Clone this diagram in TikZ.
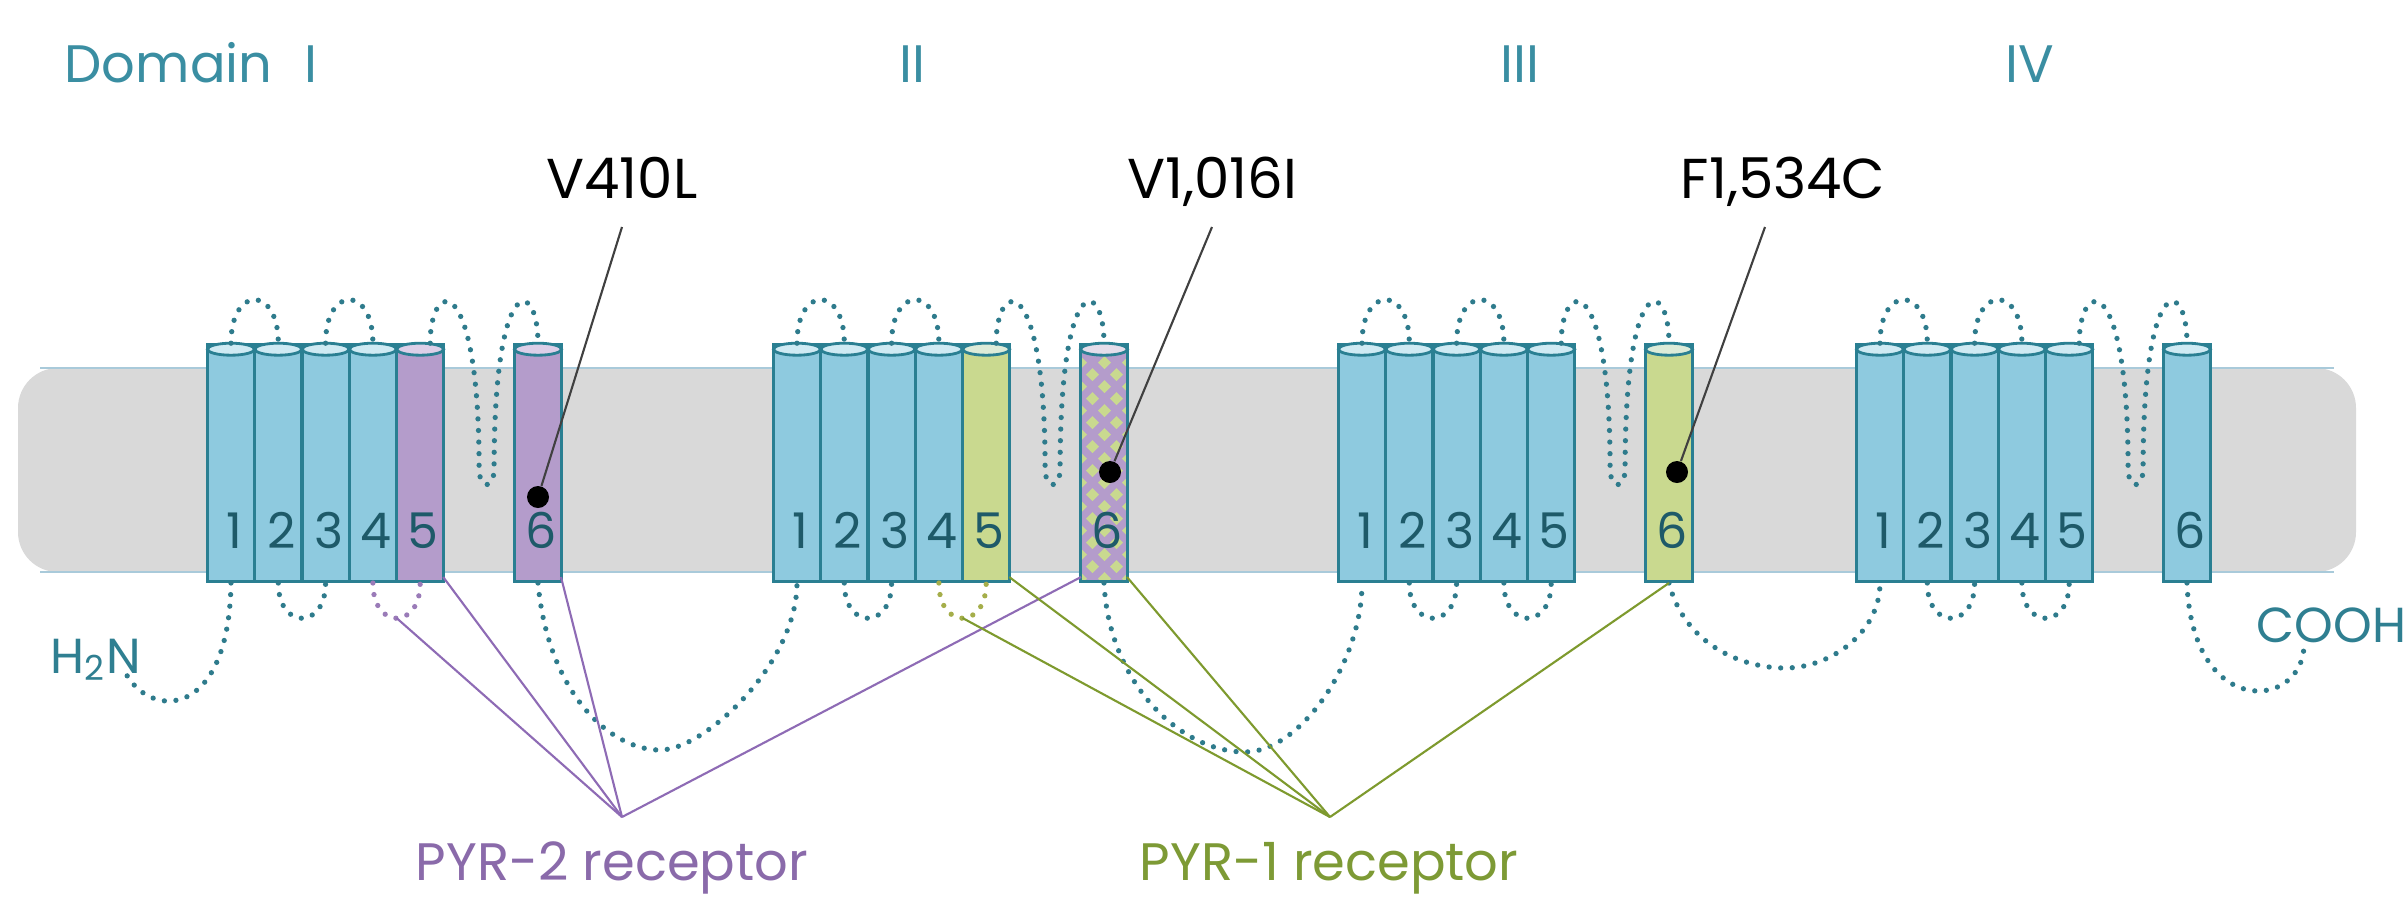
\documentclass[tikz,border=0pt]{standalone}
\usepackage{fontspec}
\setmainfont{Poppins}
\usetikzlibrary{shapes.geometric, calc}

\definecolor{helixblue}{HTML}{8ECADF}
\definecolor{helixtop}{HTML}{CFEAF3}
\definecolor{helixedge}{HTML}{2A7F92}
\definecolor{pyrpurple}{HTML}{B49CCB}
\definecolor{pyrpurpletop}{HTML}{DCCFE8}
\definecolor{pyrgreen}{HTML}{C9D98F}
\definecolor{pyrgreentop}{HTML}{DDEBD8}
\definecolor{pyrmixtop}{HTML}{E4DDEA}
\definecolor{membgray}{HTML}{D9D9D9}
\definecolor{membline}{HTML}{A9CADA}
\definecolor{domteal}{HTML}{3A8EA2}
\definecolor{endteal}{HTML}{2F7F91}
\definecolor{numteal}{HTML}{1E5A69}
\definecolor{loopteal}{HTML}{2E7B8C}
\definecolor{pyrpurpleline}{HTML}{8E6BB5}
\definecolor{pyrpurpletext}{HTML}{8A6AAA}
\definecolor{pyrgreenline}{HTML}{7E9A2E}
\definecolor{pyrgreentext}{HTML}{7D9A35}
\definecolor{pyrpurpledot}{HTML}{9A7BB8}
\definecolor{pyrgreendot}{HTML}{A5AE4A}

\begin{document}
\begin{tikzpicture}[x=0.1mm, y=-0.1mm,
  helix/.style={cylinder, shape border rotate=90, draw=helixedge, line width=0.8pt,
    aspect=0.5, minimum width=4.7mm, minimum height=23.7mm, inner sep=0pt,
    cylinder uses custom fill, cylinder body fill=helixblue, cylinder end fill=helixtop,
    anchor=bottom},
  purplehelix/.style={cylinder body fill=pyrpurple, cylinder end fill=pyrpurpletop},
  greenhelix/.style={cylinder body fill=pyrgreen, cylinder end fill=pyrgreentop},
  mixedhelix/.style={cylinder body fill=pyrpurple, cylinder end fill=pyrmixtop,
    path picture={
      \foreach \r in {0,...,19} \foreach \c in {0,...,4} {
        \pgfmathparse{int(mod(\r+\c,2))}
        \ifnum\pgfmathresult=0
          \fill[pyrgreen] ([shift={(\c*12,\r*12+18)}]path picture bounding box.north west)
            +(0,-6.5) -- +(6.5,0) -- +(0,6.5) -- +(-6.5,0) -- cycle;
        \fi}}},
  fillI5/.style={purplehelix}, fillI6/.style={purplehelix},
  fillII5/.style={greenhelix}, fillII6/.style={mixedhelix}, fillIII6/.style={greenhelix},
  capline/.style={draw=helixedge, line width=0.8pt, fill=helixtop},
  capI5/.style={fill=pyrpurpletop}, capI6/.style={fill=pyrpurpletop},
  capII5/.style={fill=pyrgreentop}, capII6/.style={fill=pyrmixtop}, capIII6/.style={fill=pyrgreentop},
  segnum/.style={text=numteal, font=\fontsize{14}{14}\selectfont, anchor=base, inner sep=0pt},
  loopline/.style={draw=loopteal, line width=1.5pt, dash pattern=on 0pt off 3.3pt, line cap=round},
  loopI/.style={draw=pyrpurpledot}, loopII/.style={draw=pyrgreendot},
  domlabel/.style={text=domteal, font=\fontsize{15}{15}\selectfont, inner sep=0pt, anchor=base},
  endlabel/.style={text=endteal, font=\fontsize{14}{14}\selectfont, inner sep=0pt, anchor=base west},
  mutlabel/.style={text=black, font=\fontsize{16}{16}\selectfont, inner sep=0pt, anchor=base},
  mutdot/.style={circle, fill=black, inner sep=0pt, minimum size=2.2mm},
  pointer/.style={draw=black!75, line width=0.6pt},
  pyr2line/.style={draw=pyrpurpleline, line width=0.6pt},
  pyr1line/.style={draw=pyrgreenline, line width=0.6pt},
  pyrlabel/.style={font=\fontsize{15}{15}\selectfont, inner sep=0pt, anchor=base}]

\fill[white] (0,0) rectangle (2407,899);
\useasboundingbox (0,0) rectangle (2407,899);

% membrane
\fill[membgray, rounded corners=4mm] (18,368) rectangle (2356,572);
\draw[membline, line width=0.5pt] (40,368) -- (2334,368) (40,572) -- (2334,572);

% Define the helices with coordinates
\foreach \d/\x in {I/231, II/797, III/1362, IV/1880} {
  \foreach \k in {1,...,5}
    \node[helix, fill\d\k/.try] (\d\k) at (\x+\k*47.3-47.3,583) {};
  \node[helix, fill\d6/.try] (\d6) at (\x+307,583) {};
  \foreach \k in {1,...,6} {
    \draw[capline, cap\d\k/.try] ([yshift=-0.6mm]\d\k.top) ellipse [x radius=2.35mm, y radius=0.6mm];
    \node[segnum] at ([xshift=0.3mm, yshift=3.5mm]\d\k.bottom) {\k};
  }
}

% loops of each domain
\foreach \d in {I,II,III,IV} {
  \draw[loopline] (\d1.top) .. controls +(0,-58) and +(0,-58) .. (\d2.top);
  \draw[loopline] (\d3.top) .. controls +(0,-58) and +(0,-58) .. (\d4.top);
  \coordinate (M\d) at ($(\d5.top)!.5!(\d6.top)$);
  \draw[loopline] ([xshift=1mm]\d5.top) .. controls +(0,-65) and +(0,-200) .. ([shift={(0,125)}]M\d)
    .. controls +(0,22) and +(0,22) .. ([shift={(15,125)}]M\d)
    .. controls +(0,-200) and +(0,-65) .. (\d6.top);
  \draw[loopline] (\d2.bottom) .. controls +(0,47) and +(0,47) .. (\d3.bottom);
  \draw[loopline, loop\d/.try] (\d4.bottom) .. controls +(0,47) and +(0,47) .. (\d5.bottom);
}

% linkers and ends
\node[endlabel] (H2N) at (50,673) {H\textsubscript{2}N};
\node[endlabel] (COOH) at (2256,642) {COOH};
\coordinate (NT) at (125,672);
\coordinate (CT) at (2304,645);
\coordinate (L12) at (660,750);
\coordinate (L23) at (1245,752);
\coordinate (L34) at (1785,668);
\draw[loopline] (I1.bottom) .. controls +(-2,137) and +(25,48) .. (NT);
\draw[loopline] (I6.bottom) .. controls +(10,110) and +(-50,0) .. (L12)
  .. controls +(45,0) and +(0,80) .. (II1.bottom);
\draw[loopline] (II6.bottom) .. controls +(5,100) and +(-65,0) .. (L23)
  .. controls +(55,0) and +(0,80) .. (III1.bottom);
\draw[loopline] (III6.bottom) .. controls +(15,60) and +(-45,0) .. (L34)
  .. controls +(45,0) and +(0,50) .. (IV1.bottom);
\draw[loopline] (IV6.bottom) .. controls +(5,137) and +(-1,65) .. (CT);

% receptors
\coordinate (P2tip) at (622,817);
\coordinate (P1tip) at (1330,817);
\node[pyrlabel, text=pyrpurpletext] (PYR2) at (612,880) {PYR-2 receptor};
\node[pyrlabel, text=pyrgreentext] (PYR1) at (1329,880) {PYR-1 receptor};
\draw[pyr2line] (P2tip) -- ($(I4.bottom)!.5!(I5.bottom)+(0,35)$);
\draw[pyr2line] (P2tip) -- ([shift={(23,-6)}]I5.bottom);
\draw[pyr2line] (P2tip) -- ([shift={(23,-6)}]I6.bottom);
\draw[pyr2line] (P2tip) -- ([shift={(-23,-6)}]II6.bottom);
\draw[pyr1line] (P1tip) -- ($(II4.bottom)!.5!(II5.bottom)+(0,35)$);
\draw[pyr1line] (P1tip) -- ([shift={(23,-6)}]II5.bottom);
\draw[pyr1line] (P1tip) -- ([shift={(23,-6)}]II6.bottom);
\draw[pyr1line] (P1tip) -- (III6.bottom);

% domain labels
\node[domlabel, anchor=base west] (DI) at (64,82) {Domain\hspace{3.2mm}I};
\node[domlabel] (DII) at (912,82) {II};
\node[domlabel] (DIII) at (1520,82) {III};
\node[domlabel] (DIV) at (2030,82) {IV};

% mutations
\node[mutlabel] (V410L) at (622,198) {V410L};
\node[mutlabel] (V1016I) at (1212,198) {V1,016I};
\node[mutlabel] (F1534C) at (1783,198) {F1,534C};
\node[mutdot] (M1) at ([yshift=8.6mm]I6.bottom) {};
\node[mutdot] (M2) at ([shift={(6,-111)}]II6.bottom) {};
\node[mutdot] (M3) at ([shift={(8,-111)}]III6.bottom) {};
\draw[pointer] (M1) -- ([yshift=-2.9mm]V410L.base);
\draw[pointer] (M2) -- ([yshift=-2.9mm]V1016I.base);
\draw[pointer] (M3) -- ([shift={(-18,29)}]F1534C.base);
\end{tikzpicture}
\end{document}
